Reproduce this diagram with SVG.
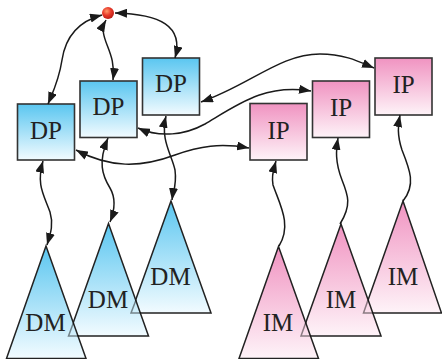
<svg xmlns="http://www.w3.org/2000/svg" width="442" height="359" viewBox="0 0 442 359">
<defs>
<linearGradient id="gBlue" x1="0" y1="0" x2="0" y2="1"><stop offset="0" stop-color="#5ac6f0"/><stop offset="1" stop-color="#f2fbff"/></linearGradient>
<linearGradient id="gPink" x1="0" y1="0" x2="0" y2="1"><stop offset="0" stop-color="#f093c1"/><stop offset="1" stop-color="#fef3f8"/></linearGradient>
<radialGradient id="gRed" cx="0.4" cy="0.35" r="0.7"><stop offset="0" stop-color="#ff9a6a"/><stop offset="0.5" stop-color="#e8392a"/><stop offset="1" stop-color="#b51b14"/></radialGradient>
<marker id="ah" markerUnits="userSpaceOnUse" markerWidth="13" markerHeight="9" refX="12" refY="4.5" orient="auto-start-reverse" viewBox="0 0 13 9"><path d="M0,0 L12,4.5 L0,9 Z" fill="#1a1a1a"/></marker>
<style>
.box{stroke:#333;stroke-width:1.6}
.tri{stroke:#222;stroke-width:1.5;stroke-linejoin:miter}
.ghost{fill:none;stroke:#000;stroke-opacity:0.45;stroke-width:1.5}
.lbl{font-family:"Liberation Serif","Times New Roman",serif;font-size:25px;fill:#222;text-anchor:middle}
.c{fill:none;stroke:#1a1a1a;stroke-width:1.5}
.d{marker-start:url(#ah);marker-end:url(#ah)}
.s{marker-end:url(#ah)}
</style>
</defs>
<g id="DM3"><path class="tri" d="M171,201 L211,313 L131,313 Z" fill="url(#gBlue)"/><text class="lbl" x="170.5" y="285">DM</text></g>
<g id="DM2"><path class="tri" d="M108.5,223.5 L148.5,336 L68.5,336 Z" fill="url(#gBlue)"/><text class="lbl" x="108" y="308">DM</text></g>
<g id="DM1"><path class="tri" d="M46,246 L86,358.5 L6.5,358.5 Z" fill="url(#gBlue)"/><text class="lbl" x="45.5" y="331">DM</text></g>
<g id="IM3"><path class="tri" d="M403,201 L441.5,313 L363.5,313 Z" fill="url(#gPink)"/><text class="lbl" x="403" y="285">IM</text></g>
<g id="IM2"><path class="tri" d="M341,224 L381,336 L301,336 Z" fill="url(#gPink)"/><text class="lbl" x="341" y="308">IM</text></g>
<g id="IM1"><path class="tri" d="M278.5,246.5 L318.5,358.5 L239,358.5 Z" fill="url(#gPink)"/><text class="lbl" x="278" y="331">IM</text></g>
<g id="hidden-edges">
<path class="ghost" d="M141,313 L131,313 L136,300"/>
<path class="ghost" d="M79,336 L68.5,336 L73.5,322.5"/>
<path class="ghost" d="M373,313 L363.5,313 L368,300"/>
<path class="ghost" d="M311,336 L301,336 L305.8,322.5"/>
</g>
<g id="DP1"><rect class="box" x="17.5" y="104" width="57" height="56" fill="url(#gBlue)"/><text class="lbl" x="46" y="138.5">DP</text></g>
<g id="DP2"><rect class="box" x="80" y="81" width="57" height="56.5" fill="url(#gBlue)"/><text class="lbl" x="108.5" y="115">DP</text></g>
<g id="DP3"><rect class="box" x="142.5" y="58" width="57" height="57" fill="url(#gBlue)"/><text class="lbl" x="171" y="92">DP</text></g>
<g id="IP1"><rect class="box" x="250" y="103.5" width="57" height="56.5" fill="url(#gPink)"/><text class="lbl" x="278.5" y="139">IP</text></g>
<g id="IP2"><rect class="box" x="312.5" y="81" width="57" height="56.5" fill="url(#gPink)"/><text class="lbl" x="341" y="116">IP</text></g>
<g id="IP3"><rect class="box" x="375" y="58" width="57" height="57" fill="url(#gPink)"/><text class="lbl" x="403.5" y="93">IP</text></g>
<g id="root"><circle cx="108" cy="13" r="6" fill="url(#gRed)"/></g>
<g id="connectors">
<path class="c d" d="M102,15 C76,22 65,40 62,60 C59,80 53,92 48,104"/>
<path class="c d" d="M106,20 C96,38 117,50 113,80"/>
<path class="c d" d="M115,13 C160,14 184,26 175,58"/>
<path class="c d" d="M201,102 C250,85 280,54 320,54 C345,54 360,62 374,68"/>
<path class="c d" d="M138,128 C160,138 185,135 205,124 C240,103 265,84 311,91"/>
<path class="c d" d="M76,150 C110,168 140,168 175,155 C200,146 220,143 249,148"/>
<path class="c d" d="M43,161 C36,185 44,195 50,212 C54,225 50,235 47,245"/>
<path class="c d" d="M108,138 C98,162 102,175 110,188 C117,200 114,212 110,222"/>
<path class="c d" d="M166,116 C160,140 172,155 175,170 C177,185 173,192 172,200"/>
<path class="c s" d="M279,246 C292,225 280,205 273,185 C271,175 274,168 276,161"/>
<path class="c s" d="M340,224 C352,205 348,195 342,180 C335,162 336,150 338,138"/>
<path class="c s" d="M403,201 C416,185 410,170 402,150 C397,135 398,125 400,115"/>
</g>
</svg>
